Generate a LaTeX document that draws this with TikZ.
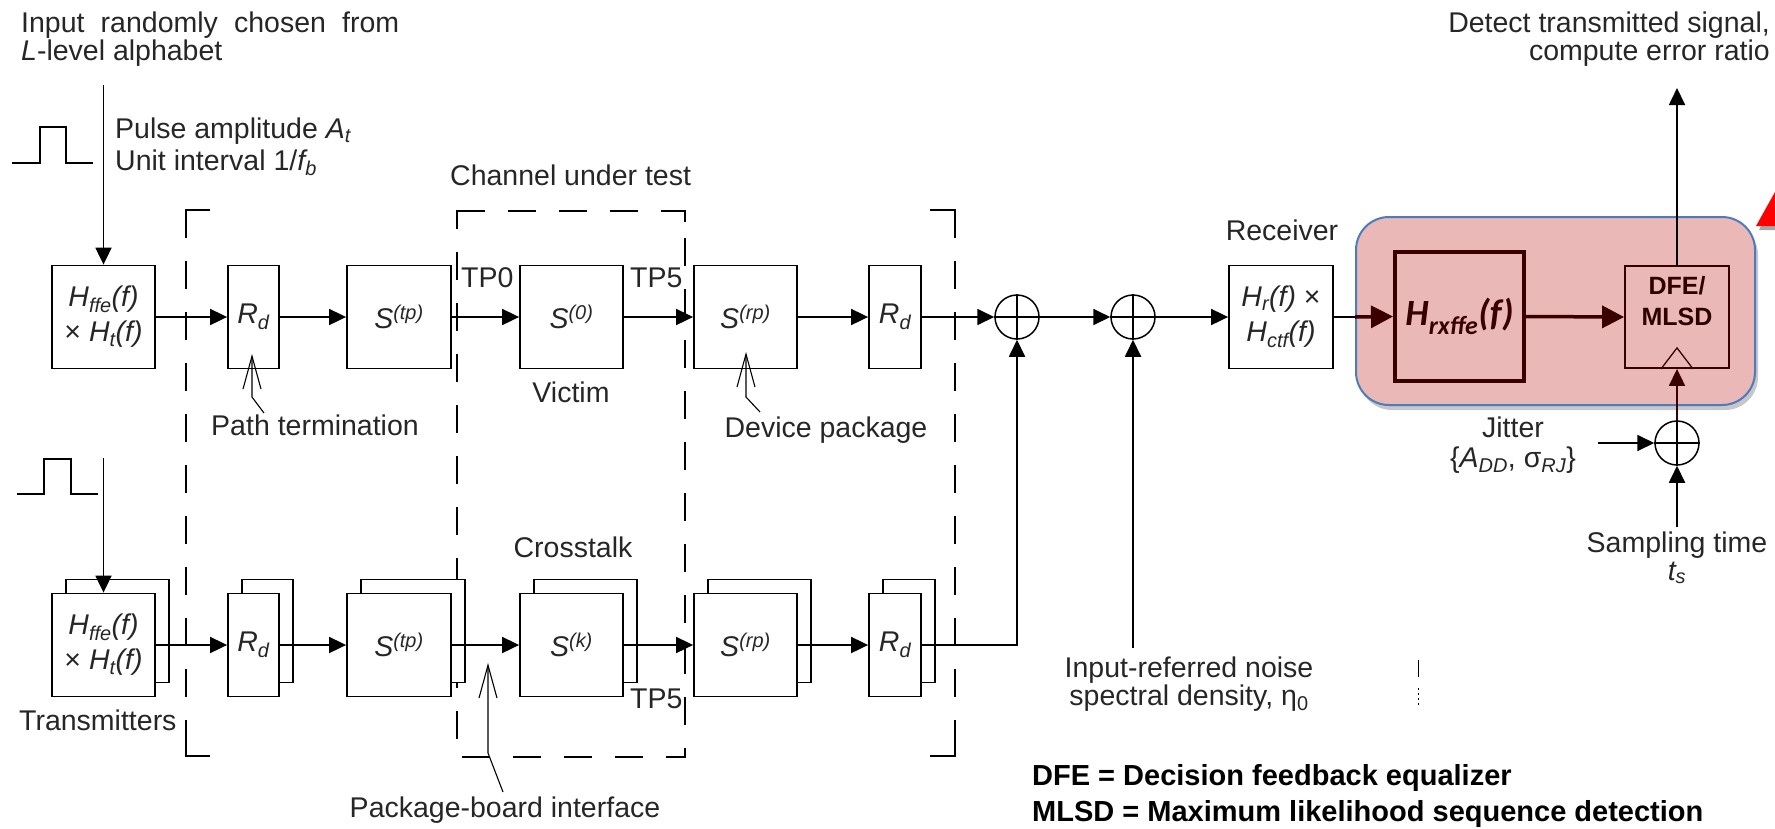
\documentclass[tikz,border=0pt]{standalone}
\usepackage{fontspec}
\setmainfont{Liberation Sans}
\newfontfamily\calib{Carlito}
\usetikzlibrary{arrows.meta,shadows}

\definecolor{txt}{RGB}{38,38,38}
\definecolor{pinkf}{RGB}{235,184,184}
\definecolor{blueb}{RGB}{74,124,190}
\definecolor{maroon}{RGB}{58,0,0}

\newcommand\lblfont{\fontsize{28.5}{35}\selectfont}
\newcommand\legfont{\fontsize{29}{35}\selectfont\bfseries}
\newcommand\rxfont{\calib\fontsize{37}{40}\selectfont\bfseries\itshape}
\newcommand\dfefont{\fontsize{25}{31}\selectfont\bfseries}
% transfer functions and S-parameter blocks
\newcommand\Hs[1]{\textit{H\textsubscript{#1}(f)}}
\newcommand\Sp[1]{\textit{S\textsuperscript{(#1)}}}
\newcommand\Rd{\textit{R\textsubscript{d}}}

\begin{document}
\begin{tikzpicture}[x=1pt,y=-1pt,
  blk/.style={draw, line width=1.8pt, fill=white, inner sep=0pt, align=center,
              text=txt, font=\lblfont, minimum height=103pt},
  sig/.style={line width=1.8pt, -{Triangle[length=17pt,width=16pt]}},
  plain/.style={line width=1.8pt},
  adder/.style={circle, draw, line width=1.5pt, minimum size=44pt, inner sep=0pt},
  lbl/.style={anchor=base, inner sep=0pt, text=txt, font=\lblfont},
  ptr/.style={line width=1.1pt, -{Straight Barb[length=33pt,width=18pt]}},
  frame/.style={line width=1.8pt, dash pattern=on 28pt off 23pt},
  thickarr/.style={line width=3.5pt, draw=maroon, -{Triangle[length=22pt,width=22pt,fill=maroon]}}
]
\useasboundingbox (0,0) rectangle (1775,828);

% ---------- test channel frames ----------
\draw[frame] (186,210) -- (186,756);
\draw[plain] (210,210) -- (186,210) -- (186,222);
\draw[plain] (186,742) -- (186,756) -- (210,756);
\draw[frame] (955,210) -- (955,756);
\draw[plain] (930,210) -- (955,210) -- (955,222);
\draw[plain] (955,742) -- (955,756) -- (930,756);
\draw[frame] (457,211) -- (685,211) -- (685,757) -- (457,757) -- cycle;
\draw[plain] (468,211) -- (457,211) -- (457,222);
\draw[plain] (674,211) -- (685,211) -- (685,222);

% ---------- victim path ----------
\node[blk, minimum width=103pt] (hffe) at (103.5,317) {\Hs{ffe}\\× \Hs{t}};
\node[blk, minimum width=51pt]  (rdA)  at (253.5,317) {\Rd};
\node[blk, minimum width=104pt] (stpA) at (399,317) {\Sp{tp}};
\node[blk, minimum width=103pt] (s0)   at (571.5,317) {\Sp{0}};
\node[blk, minimum width=103pt] (srpA) at (745.5,317) {\Sp{rp}};
\node[blk, minimum width=52pt]  (rdA2) at (895,317) {\Rd};

% ---------- crosstalk path (stacked blocks) ----------
\node[blk, minimum width=103pt] (hffeBk) at (117.5,631) {};
\node[blk, minimum width=103pt] (hffeB)  at (103.5,645) {\Hs{ffe}\\× \Hs{t}};
\node[blk, minimum width=51pt]  (rdBk)   at (267.5,631) {};
\node[blk, minimum width=51pt]  (rdB)    at (253.5,645) {\Rd};
\node[blk, minimum width=104pt] (stpBk)  at (413,631) {};
\node[blk, minimum width=104pt] (stpB)   at (399,645) {\Sp{tp}};
\node[blk, minimum width=103pt] (skBk)   at (585.5,631) {};
\node[blk, minimum width=103pt] (sk)     at (571.5,645) {\Sp{k}};
\node[blk, minimum width=103pt] (srpBk)  at (759.5,631) {};
\node[blk, minimum width=103pt] (srpB)   at (745.5,645) {\Sp{rp}};
\node[blk, minimum width=52pt]  (rdB2k)  at (909,631) {};
\node[blk, minimum width=52pt]  (rdB2)   at (895,645) {\Rd};

% ---------- summing junctions and receiver ----------
\node[adder] (add1) at (1017,317) {};
\node[adder] (add2) at (1133,317) {};
\draw[line width=1.5pt] (add1.north) -- (add1.south) (add1.west) -- (add1.east);
\draw[line width=1.5pt] (add2.north) -- (add2.south) (add2.west) -- (add2.east);
\node[blk, minimum width=104pt] (rx) at (1281,317) {\Hs{r} ×\\\Hs{ctf}};

% ---------- equaliser / detector panel ----------
\node[draw=blueb, fill=pinkf, line width=2pt, rounded corners=33pt,
      minimum width=399pt, minimum height=188pt, inner sep=0pt,
      drop shadow={shadow xshift=3pt, shadow yshift=-5pt, fill=black, opacity=0.22}]
      (panel) at (1555.5,311) {};
\node[draw=maroon, line width=4pt, minimum width=129pt, minimum height=129pt,
      inner sep=0pt, text=maroon, font=\rxfont] (hrx) at (1459.5,316.5)
      {H\textsubscript{rxffe}(f)};
\node[draw=maroon, line width=1.8pt, minimum width=104pt, minimum height=102pt,
      inner sep=0pt, align=center, text=maroon!80!black, font=\dfefont]
      (dfe) at (1677,317) {DFE/\\MLSD\\[-8pt]\strut};
\draw[maroon, line width=1.3pt] ([xshift=-16pt]dfe.south) -- ([yshift=21pt]dfe.south)
      -- ([xshift=16pt]dfe.south);
\node[adder] (jadd) at (1677,443) {};
\draw[line width=1.5pt] (jadd.north) -- (jadd.south) (jadd.west) -- (jadd.east);

% ---------- input pulses ----------
\draw[plain] (12,163) -- (40,163) -- (40,127) -- (66,127) -- (66,163) -- (93,163);
\draw[plain] (17,494) -- (44,494) -- (44,459) -- (71,459) -- (71,494) -- (98,494);

% ---------- free ends of connectors ----------
\coordinate (inA) at (103.5,85);
\coordinate (inB) at (103.5,458);
\coordinate (outD) at (1677,88);
\coordinate (jitIn) at (1598,443);
\coordinate (sampIn) at (1677,527);
\coordinate (noiseIn) at (1133,648);

% ---------- victim connectors ----------
\draw[sig] (inA) -- (hffe.north);
\draw[sig] (hffe.east) -- (rdA.west);
\draw[sig] (rdA.east) -- (stpA.west);
\draw[sig] (stpA.east) -- (s0.west);
\draw[sig] (s0.east) -- (srpA.west);
\draw[sig] (srpA.east) -- (rdA2.west);
\draw[sig] (rdA2.east) -- (add1.west);
\draw[sig] (add1.east) -- (add2.west);
\draw[sig] (add2.east) -- (rx.west);
\draw[plain] (rx.east) -- (rx.east -| panel.west);
\draw[thickarr] (rx.east -| panel.west) -- (hrx.west);
\draw[thickarr] (hrx.east) -- (dfe.west);
\draw[sig] (dfe.north) -- (outD);

% ---------- crosstalk connectors ----------
\draw[sig] (inB) -- (hffeB.north);
\draw[sig] (hffeB.east) -- (rdB.west);
\draw[sig] (rdB.east) -- (stpB.west);
\draw[sig] (stpB.east) -- (sk.west);
\draw[sig] (sk.east) -- (srpB.west);
\draw[sig] (srpB.east) -- (rdB2.west);
\draw[sig] (rdB2.east) -| (add1.south);
\draw[sig] (noiseIn) -- (add2.south);

% ---------- timing ----------
\draw[sig] (jitIn) -- (jadd.west);
\draw[sig] (sampIn) -- (jadd.south);
\draw[sig, draw=maroon, fill=maroon] (jadd.north) -- (dfe.south);

% ---------- pointers ----------
\coordinate (ptA) at (264,413);  \coordinate (ptB) at (252,397);  \coordinate (ptT) at (252,354);
\draw[ptr] (ptA) -- (ptB) -- (ptT);
\coordinate (dpA) at (760,412);  \coordinate (dpB) at (746,397);  \coordinate (dpT) at (746,352);
\draw[ptr] (dpA) -- (dpB) -- (dpT);
\coordinate (pbA) at (503,792);  \coordinate (pbB) at (488,753);  \coordinate (pbT) at (488,663);
\draw[ptr] (pbA) -- (pbB) -- (pbT);

% ---------- labels ----------
\node[lbl, anchor=base west] (tIn1) at (21,32) {\makebox[378pt][s]{Input randomly chosen from}};
\node[lbl, anchor=base west] (tIn2) at (21,60) {\textit{L}-level alphabet};
\node[lbl, anchor=base west] (tPa)  at (115,138) {Pulse amplitude \textit{A\textsubscript{t}}};
\node[lbl, anchor=base west] (tUi)  at (115,170) {Unit interval 1/\textit{f\textsubscript{b}}};
\node[lbl, anchor=base west] (tCut) at (450,185) {Channel under test};
\node[lbl, anchor=base west] (tTP0) at (461,287) {TP0};
\node[lbl, anchor=base west] (tTP5) at (630,287) {TP5};
\node[lbl, anchor=base west] (tTP5b) at (630,708) {TP5};
\node[lbl] (tVic)  at (571,402) {Victim};
\node[lbl] (tPath) at (315,435) {Path termination};
\node[lbl] (tDev)  at (826,437) {Device package};
\node[lbl] (tXt)   at (573,557) {Crosstalk};
\node[lbl, anchor=base west] (tTx) at (19,730) {Transmitters};
\node[lbl] (tPbi)  at (505,817) {Package-board interface};
\node[lbl] (tRx)   at (1282,240) {Receiver};
\node[lbl, anchor=base east] (tDet1) at (1770,32) {Detect transmitted signal,};
\node[lbl, anchor=base east] (tDet2) at (1770,60) {compute error ratio};
\node[lbl] (tJit1) at (1513,437) {Jitter};
\node[lbl] (tJit2) at (1513,467) {\{\textit{A\textsubscript{DD}}, σ\textsubscript{\textit{RJ}}\}};
\node[lbl] (tSamp1) at (1677,552) {Sampling time};
\node[lbl] (tSamp2) at (1677,580) {\textit{t\textsubscript{s}}};
\node[lbl] (tNoise1) at (1189,677) {Input-referred noise};
\node[lbl] (tNoise2) at (1189,705) {spectral density, η\textsubscript{0}};
\node[lbl, anchor=base west, text=black, font=\legfont] (tLeg1) at (1032,785)
      {DFE = Decision feedback equalizer};
\node[lbl, anchor=base west, text=black, font=\legfont] (tLeg2) at (1032,821)
      {MLSD = Maximum likelihood sequence detection};

% ---------- stray marks ----------
\draw[line width=1pt] (1418,660) -- (1418,677);
\draw[line width=1pt, dash pattern=on 2pt off 3pt] (1418,688) -- (1418,707);

% ---------- red callout corner ----------
\fill[black!35] (1759,230) -- (1775,230) -- (1775,197) -- cycle;
\fill[red] (1756,226) -- (1775,226) -- (1775,192) -- cycle;
\end{tikzpicture}
\end{document}
